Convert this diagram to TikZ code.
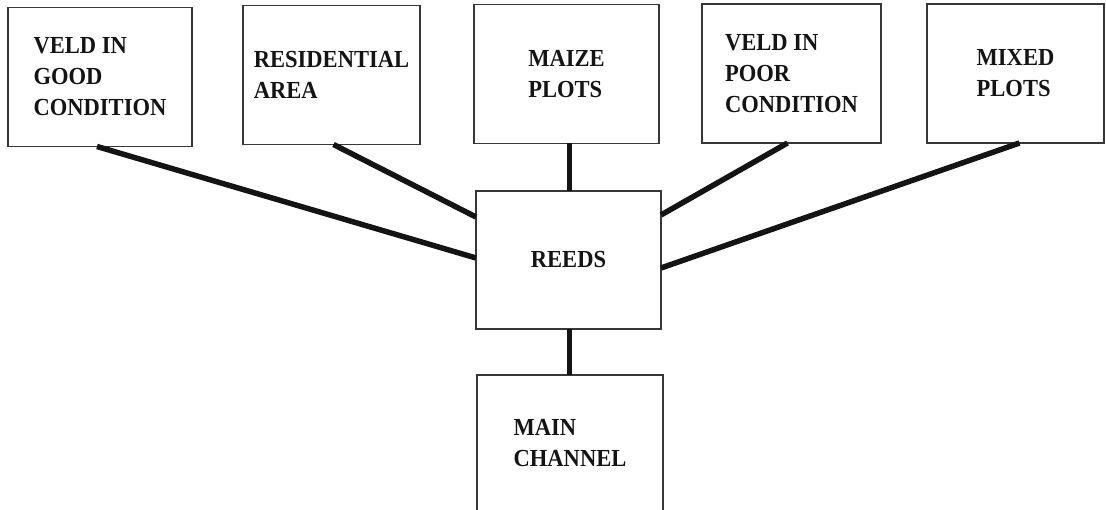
\documentclass[tikz,border=0pt]{standalone}
\usepackage{fontspec}
\setmainfont{Liberation Serif}[FakeStretch=0.92]
\usetikzlibrary{positioning}
\definecolor{frame}{RGB}{55,55,55}
\definecolor{ink}{RGB}{20,20,20}
\tikzset{
  plot/.style={draw=frame,line width=1.6pt,inner sep=0pt,outer sep=0pt,
    minimum height=139pt,align=left,text=ink,
    font=\fontsize{24.5}{31}\selectfont\bfseries},
  link/.style={draw=ink,line width=5.5pt},
}

\begin{document}
\begin{tikzpicture}[x=1pt,y=-1pt]
  \useasboundingbox (0,0) rectangle (1106,510);
  \clip (0,0) rectangle (1106,510);
  % upper row of land units
  \foreach \n/\x/\y/\w/\t in {vgood/100/77/184/{VELD IN\\GOOD\\CONDITION},
      resid/331.5/75/177/{RESIDENTIAL\\AREA},
      maize/566.5/74/185/{MAIZE\\PLOTS},
      vpoor/791.5/73.5/179/{VELD IN\\POOR\\CONDITION},
      mixed/1015.5/73.5/177/{MIXED\\PLOTS}}
    \node[plot,minimum width=\w pt] (\n) at (\x,\y) {\t};
  \node[plot,minimum width=185pt,minimum height=138pt] (reeds) at (568.5,260) {REEDS};
  \node[plot,minimum width=186pt,minimum height=137pt] (channel) at (570,443.5) {MAIN\\CHANNEL};
  % connectors
  \draw[link] ([xshift=-3pt]vgood.south) -- ([yshift=2pt]reeds.west);
  \draw[link] ([xshift=2pt]resid.south) -- ([yshift=43pt]reeds.west);
  \draw[link] ([xshift=3pt]maize.south) -- ([xshift=3pt]maize.south |- reeds.north);
  \draw[link] ([xshift=-4pt]vpoor.south) -- ([yshift=45pt]reeds.east);
  \draw[link] ([xshift=4pt]mixed.south) -- ([yshift=-8pt]reeds.east);
  \draw[link] ([xshift=1pt]reeds.south) -- ([xshift=1pt]reeds.south |- channel.north);
\end{tikzpicture}
\end{document}
